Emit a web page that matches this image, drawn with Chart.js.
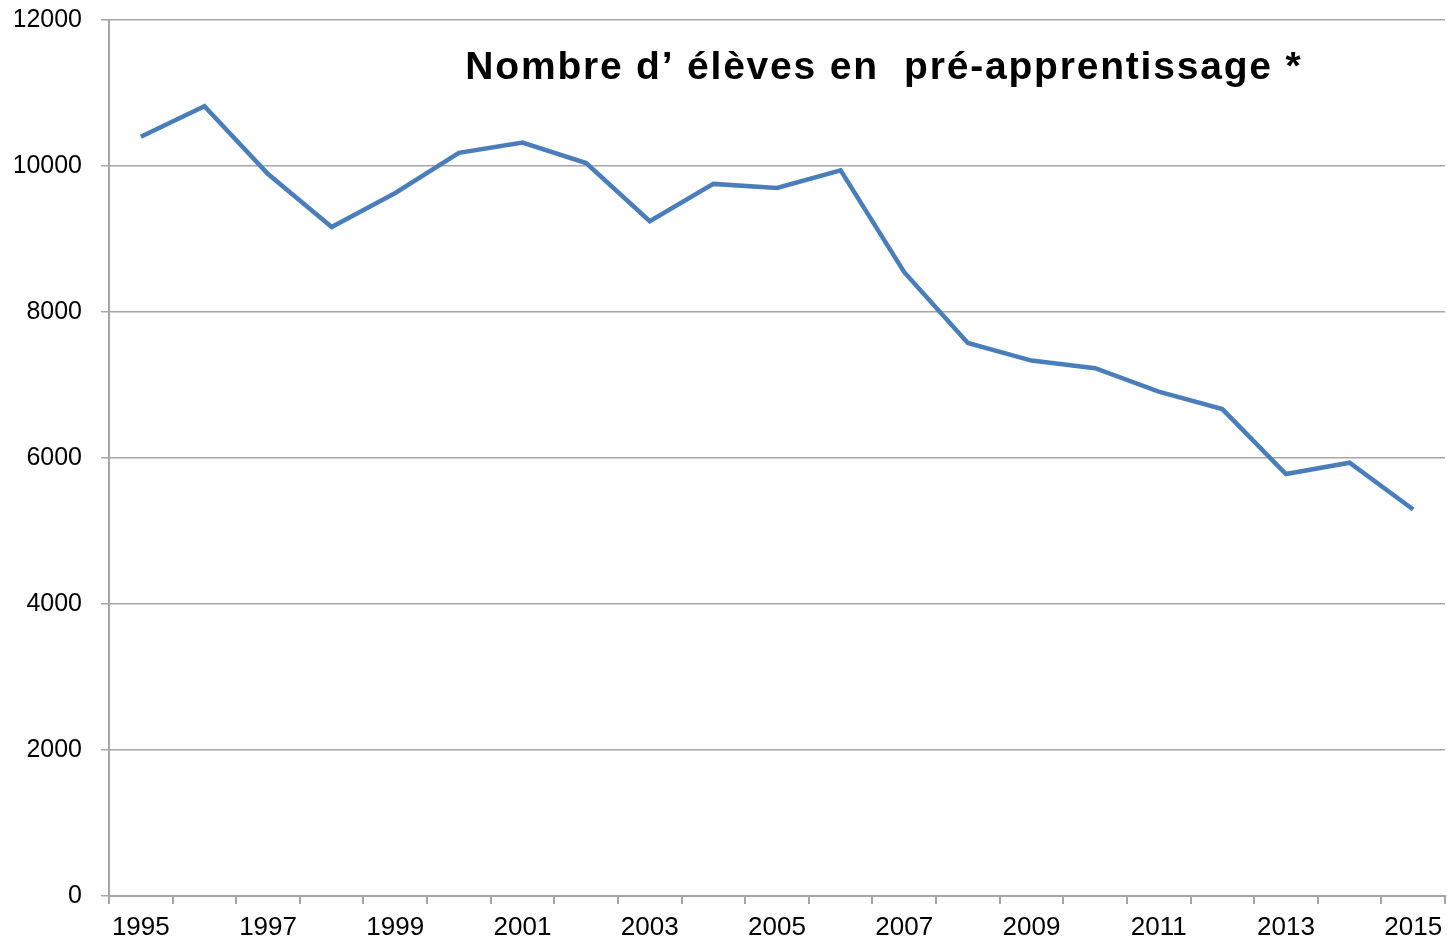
<!DOCTYPE html>
<html>
<head>
<meta charset="utf-8">
<script src="https://cdn.jsdelivr.net/npm/chart.js@4/dist/chart.umd.min.js"></script>
<style>
  html, body { margin: 0; padding: 0; background: #fff; }
  #wrap { width: 1447px; height: 940px; }
</style>
</head>
<body>
<div id="wrap"><canvas id="eleves"></canvas></div>
<script>
const years = ['1995', '1996', '1997', '1998', '1999', '2000', '2001', '2002', '2003', '2004', '2005',
    '2006', '2007', '2008', '2009', '2010', '2011', '2012', '2013', '2014', '2015'];
const eleves = [10400, 10820, 9890, 9165, 9630, 10180, 10320, 10040, 9245, 9755, 9700,
    9940, 8545, 7575, 7335, 7230, 6910, 6670, 5780, 5935, 5295];
const yTicks = [0, 2000, 4000, 6000, 8000, 10000, 12000];
const titre = 'Nombre d\u2019 \u00e9l\u00e8ves en  pr\u00e9-apprentissage *';

// titre dessiné dans la zone du graphique
const titlePlugin = {
    id: 'titreInterne',
    afterDraw(chart) {
        const ctx = chart.ctx;
        const area = chart.chartArea;
        const cx = area.left + (area.right - area.left) * 0.58;
        ctx.save();
        ctx.font = 'bold 39px "Liberation Sans", Arial, sans-serif';
        ctx.letterSpacing = '1.8px';
        ctx.fillStyle = '#000';
        ctx.textAlign = 'center';
        ctx.textBaseline = 'alphabetic';
        ctx.fillText(titre, cx, area.top + 59);
        ctx.restore();
    }
};

const ctx = document.getElementById('eleves').getContext('2d');
new Chart(ctx, {
    type: 'line',
    data: {
        labels: years,
        datasets: [{
            label: 'Élèves',
            data: eleves,
            borderColor: '#4a7ebb',
            borderWidth: 4.5,
            pointRadius: 0,
            tension: 0,
            fill: false
        }]
    },
    options: {
        responsive: true,
        maintainAspectRatio: false,
        animation: false,
        layout: { padding: { top: 20, right: 2, left: 15, bottom: 0 } },
        plugins: {
            legend: { display: false },
            tooltip: { enabled: false }
        },
        scales: {
            x: {
                offset: true,
                afterFit: function(axis) {
                    axis.height = 44;
                    axis.paddingLeft = 0;
                    axis.paddingRight = 0;
                },
                grid: {
                    offset: true,
                    drawOnChartArea: false,
                    drawTicks: true,
                    tickLength: 8,
                    color: '#a6a6a6',
                    lineWidth: 2
                },
                border: { color: '#a6a6a6', width: 2 },
                ticks: {
                    autoSkip: false,
                    maxRotation: 0,
                    padding: 10,
                    color: '#000',
                    font: { family: '"Liberation Sans", Arial, sans-serif', size: 26, lineHeight: 1.1 },
                    callback: function(value, index) {
                        return index % 2 === 0 ? years[index] : '';
                    }
                }
            },
            y: {
                min: 0,
                max: 12000,
                afterBuildTicks: function(axis) {
                    axis.ticks = yTicks.map(v => ({ value: v }));
                },
                afterFit: function(axis) {
                    axis.width = 94;
                    axis.paddingTop = 0;
                    axis.paddingBottom = 0;
                },
                grid: {
                    color: '#a6a6a6',
                    lineWidth: 1.5,
                    tickLength: 8
                },
                border: { color: '#a6a6a6', width: 2 },
                ticks: {
                    padding: 19,
                    color: '#000',
                    font: { family: '"Liberation Sans", Arial, sans-serif', size: 25 },
                    callback: function(value) {
                        return String(value);
                    }
                }
            }
        }
    },
    plugins: [titlePlugin]
});
</script>
</body>
</html>
